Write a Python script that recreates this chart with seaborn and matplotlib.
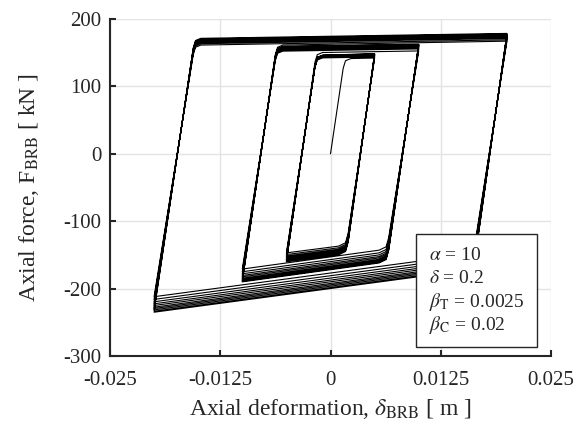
"""
BRB hysteresis: axial force vs axial deformation, three amplitudes of cyclic loading
"""
import numpy as np
import pandas as pd
import matplotlib
matplotlib.use("Agg")
import matplotlib.pyplot as plt
import matplotlib.patches as mpatches
import seaborn as sns

# ── Data ─────────────────────────────────────────────────────────────────────
amplitudes = [0.005, 0.01, 0.02]          # deformation amplitude of each block [m]

# first loading from rest: corner of the elastic branch
initial_corner_x = 0.0016

# x of the tension / compression yield corner for each amplitude
ten_corner_x = [-0.0016, -0.0061, -0.0154]
com_corner_x = [0.0018, 0.0064, 0.0162]

# per cycle forces [kN]: start of plateau and value at the amplitude
inner_ten_start = [141, 142, 143, 143.5, 144, 144.5, 145, 145.5, 146, 146]
inner_ten_peak = [142, 143.5, 144.5, 145.5, 146, 146.5, 147, 147.5, 148, 148.5]
inner_com_start = [-136, -138.5, -140.5, -142, -143.5, -145, -146, -147, -148, -149]
inner_com_peak = [-147, -149.5, -151.5, -153, -154.5, -156, -157, -158, -159, -160]

middle_ten_start = [150, 152, 153.5, 155, 156, 157, 157.5, 158, 158.5, 159]
middle_ten_peak = [152.5, 155.5, 157, 158.5, 159.5, 160.5, 161, 161.5, 162, 162.5]
middle_com_start = [-142, -146, -149, -151.5, -153.5, -155.5, -157, -158.5, -160, -161]
middle_com_peak = [-171, -175, -178, -180.5, -182.5, -184.5, -186, -187.5, -189, -190]

outer_ten_start = [161, 161, 163, 164.5, 166, 167, 168, 169, 170, 171]
outer_ten_peak = [167, 169, 171, 172, 173.5, 174.5, 175.5, 176.5, 177.5, 178.5]
outer_com_start = [-149, -153, -156.5, -159.5, -162, -164.5, -166.5, -168.5, -170.5, -172]
outer_com_peak = [-212, -216, -219.5, -222.5, -225, -227.5, -229.5, -231.5, -233.5, -235]

ten_start = [inner_ten_start, middle_ten_start, outer_ten_start]
ten_peak = [inner_ten_peak, middle_ten_peak, outer_ten_peak]
com_start = [inner_com_start, middle_com_start, outer_com_start]
com_peak = [inner_com_peak, middle_com_peak, outer_com_peak]

# rounded knee shape around a corner (offsets from the corner)
ten_knee_dx = [-0.00016, 0.0001, 0.0007]
ten_knee_dF = [-14, -3, 0.2]
com_knee_dx = [0.0002, -0.0001, -0.0009]
com_knee_dF = [18, 4, -1]

xticks = [-0.025, -0.0125, 0, 0.0125, 0.025]
xticklabels = ["-0.025", "-0.0125", "0", "0.0125", "0.025"]
yticks = [-300, -200, -100, 0, 100, 200]
yticklabels = ["-300", "-200", "-100", "0", "100", "200"]

params = [r"$\alpha$ = 10", r"$\delta$ = 0.2",
          r"$\beta_{\rm T}$ = 0.0025", r"$\beta_{\rm C}$ = 0.02"]

# ── Build the loading path ───────────────────────────────────────────────────
px, pF = [0.0], [0.0]
prev_tx = initial_corner_x
for j, A in enumerate(amplitudes):
    for c in range(len(ten_start[j])):
        xt = prev_tx if c == 0 else ten_corner_x[j]
        for dx, dF in zip(ten_knee_dx, ten_knee_dF):
            px.append(xt + dx)
            pF.append(ten_start[j][c] + dF)
        px.append(A)
        pF.append(ten_peak[j][c])
        for dx, dF in zip(com_knee_dx, com_knee_dF):
            px.append(com_corner_x[j] + dx)
            pF.append(com_start[j][c] + dF)
        px.append(-A)
        pF.append(com_peak[j][c])
    prev_tx = ten_corner_x[j]

df = pd.DataFrame({"x": px, "F": pF})

# ── Figure ───────────────────────────────────────────────────────────────────
sns.set_theme(style="ticks")
plt.rcParams["font.family"] = ["Liberation Serif", "DejaVu Serif"]
plt.rcParams["mathtext.fontset"] = "stix"
plt.rcParams["axes.unicode_minus"] = False

fig = plt.figure(figsize=(5.77, 4.30), dpi=100)
ax = fig.add_axes([0.1906, 0.172, 0.7644, 0.784])

sns.lineplot(data=df, x="x", y="F", sort=False, estimator=None,
             color="black", lw=0.8, ax=ax, legend=False)

ax.set_xlim(-0.025, 0.025)
ax.set_ylim(-300, 200)
ax.set_xticks(xticks)
ax.set_xticklabels(xticklabels)
ax.set_yticks(yticks)
ax.set_yticklabels(yticklabels)
ax.grid(True, color="#e3e3e3", lw=1.0)
ax.set_axisbelow(True)
for s in ["top", "right"]:
    ax.spines[s].set_visible(False)
for s in ["left", "bottom"]:
    ax.spines[s].set_color("#262626")
    ax.spines[s].set_linewidth(1.5)
ax.tick_params(direction="in", length=4, width=1.5, color="#262626",
               labelcolor="#262626", labelsize=15)
ax.tick_params(axis="x", pad=11)
ax.tick_params(axis="y", pad=6)

ax.set_xlabel(r"Axial deformation, $\delta_{\rm BRB}$ [ m ]", fontsize=17,
              color="#262626", labelpad=5)
ax.set_ylabel(r"Axial force, F$_{\rm BRB}$ [ kN ]", fontsize=17,
              color="#262626", labelpad=16)

# parameter box
ax.add_patch(mpatches.Rectangle((0.694, 0.027), 0.274, 0.335, transform=ax.transAxes,
                                facecolor="white", edgecolor="#262626", lw=1.0, zorder=5))
for txt, yb in zip(params, [0.285, 0.217, 0.145, 0.077]):
    ax.text(0.723, yb, txt, transform=ax.transAxes, fontsize=14, va="baseline",
            ha="left", color="#262626", zorder=6)

fig.savefig("out.png", dpi=100)
plt.close()
